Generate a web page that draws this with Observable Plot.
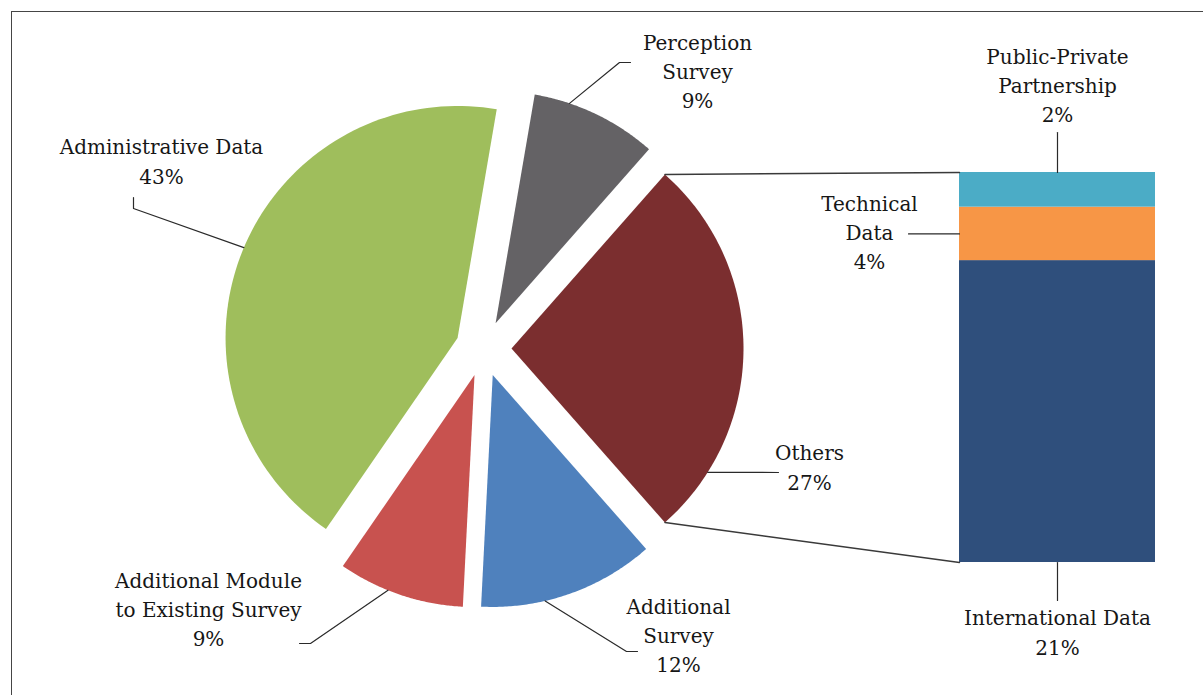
<!DOCTYPE html>
<html><head><meta charset="utf-8">
<script src="https://cdn.jsdelivr.net/npm/d3@7"></script>
<script src="https://cdn.jsdelivr.net/npm/@observablehq/plot@0.6"></script>
<style>
html,body{margin:0;padding:0;background:#fff;overflow:hidden}
#wrap{position:relative;width:1203px;height:695px;overflow:hidden}
#frame{position:absolute;left:11px;top:11px;width:1240px;height:740px;border:1.5px solid #454545;box-sizing:border-box}
#chart{position:absolute;left:0;top:0}
</style></head><body>
<div id="wrap"><div id="frame"></div><div id="chart"></div></div>
<script>
// ---- data ----
const pieLabels = ["Perception\nSurvey", "Others", "Additional\nSurvey", "Additional Module\nto Existing Survey", "Administrative Data"];
const pieValues = [8.8, 27.0, 12.3, 8.8, 43.1];
const pieColors = ["#646265", "#7b2e2f", "#4f81bd", "#c8524f", "#9fbe5c"];
const barLabels = ["International Data", "Technical\nData", "Public-Private\nPartnership"];
const barValues = [20.9, 3.7, 2.4];
const barColors = ["#2f4f7c", "#f79646", "#4bacc6"];
const othersName = "Others";

// ---- layout (pixels) ----
const L = {cx: 483, cy: 348, r: 232, explode: 28,
  barX0: 959, barX1: 1155, barTop: 172, barBottom: 562};
// label placement: text centre, fraction along slice arc where leader starts, leader path
const pieLabelPos = [
  {tx: 697, ty: 69, frac: 0.28, path: [[619, 62], [630, 62]]},
  {tx: 809, ty: 465, frac: 0.832, path: [[778, 472]]},
  {tx: 678, ty: 633, frac: 0.64, path: [[626, 651], [637, 651]]},
  {tx: 208, ty: 607, frac: 0.60, path: [[310, 643], [299, 643]]},
  {tx: 161, ty: 159, frac: 0.505, path: [[133, 208], [133, 197]]}
];
const barLabelPos = [
  {tx: 1057, ty: 630, side: "bottom", len: 38},
  {tx: 869, ty: 230, side: "left", len: 51},
  {tx: 1057, ty: 83, side: "top", len: 40}
];

// ---- geometry from values ----
const total = d3.sum(pieValues);
const deg = v => v / total * 360;
const oi = pieLabels.indexOf(othersName);
const startAngle = 90 - deg(d3.sum(pieValues.slice(0, oi))) - deg(pieValues[oi]) / 2;
let acc = startAngle;
const slices = pieValues.map((v, i) => {
  const a0 = acc, a1 = acc + deg(v); acc = a1;
  const mid = (a0 + a1) / 2 * Math.PI / 180;
  return {i, v, a0, a1, ax: L.cx + L.explode * Math.sin(mid), ay: L.cy - L.explode * Math.cos(mid)};
});
const arcPt = (s, a) => ({x: s.ax + L.r * Math.sin(a * Math.PI / 180), y: s.ay - L.r * Math.cos(a * Math.PI / 180)});
const slicePolys = slices.map(s => {
  const N = 90;
  return [{x: s.ax, y: s.ay}, ...d3.range(N + 1).map(k => arcPt(s, s.a0 + (s.a1 - s.a0) * k / N)), {x: s.ax, y: s.ay}];
});

const barTotal = d3.sum(barValues);
const unit = (L.barBottom - L.barTop) / barTotal;
let cum = 0;
const barRects = barValues.map((v, i) => {
  const y1 = L.barBottom - cum * unit; cum += v;
  const y2 = L.barBottom - cum * unit;
  return {i, x1: L.barX0, x2: L.barX1, y1, y2, fill: barColors[i]};
});

const others = slices[oi];
const topTip = arcPt(others, others.a0), botTip = arcPt(others, others.a1);
const connectors = [
  {k: 0, x: topTip.x, y: topTip.y}, {k: 0, x: L.barX0, y: L.barTop},
  {k: 1, x: botTip.x, y: botTip.y}, {k: 1, x: L.barX0, y: L.barBottom}
];

const leaders = [];
slices.forEach((s, i) => {
  const p = pieLabelPos[i];
  const a = arcPt(s, s.a0 + (s.a1 - s.a0) * p.frac);
  leaders.push({k: "p" + i, x: a.x, y: a.y});
  p.path.forEach(([x, y]) => leaders.push({k: "p" + i, x, y}));
});
barRects.forEach((b, i) => {
  const p = barLabelPos[i];
  const mx = (b.x1 + b.x2) / 2, my = (b.y1 + b.y2) / 2;
  if (p.side === "left") { leaders.push({k: "b" + i, x: b.x1, y: my}, {k: "b" + i, x: b.x1 - p.len, y: my}); }
  if (p.side === "top") { leaders.push({k: "b" + i, x: mx, y: b.y2}, {k: "b" + i, x: mx, y: b.y2 - p.len}); }
  if (p.side === "bottom") { leaders.push({k: "b" + i, x: mx, y: b.y1}, {k: "b" + i, x: mx, y: b.y1 + p.len}); }
});

const fmt = v => Math.round(v / total * 100) + "%";
const fmtBar = v => Math.round(v) + "%";
const texts = [
  ...pieLabels.map((l, i) => ({x: pieLabelPos[i].tx, y: pieLabelPos[i].ty, t: l + "\n" + fmt(pieValues[i])})),
  ...barLabels.map((l, i) => ({x: barLabelPos[i].tx, y: barLabelPos[i].ty, t: l + "\n" + fmtBar(barValues[i])}))
];

const chart = Plot.plot({
  width: 1203, height: 695, margin: 0,
  x: {domain: [0, 1203], range: [0, 1203], axis: null},
  y: {domain: [0, 695], range: [0, 695], axis: null},
  style: {background: "transparent"},
  marks: [
    ...slicePolys.map((poly, i) => Plot.line(poly, {x: "x", y: "y", fill: pieColors[i], stroke: "none", curve: "linear"})),
    Plot.rect(barRects, {x1: "x1", x2: "x2", y1: "y1", y2: "y2", fill: "fill"}),
    Plot.line(connectors, {x: "x", y: "y", z: "k", stroke: "#3a3a3a", strokeWidth: 1.4}),
    Plot.line(leaders, {x: "x", y: "y", z: "k", stroke: "#2a2a2a", strokeWidth: 1.2}),
    Plot.text(texts, {x: "x", y: "y", text: "t", fontSize: 20, fontFamily: "DejaVu Serif", fill: "#161616",
      textAnchor: "middle", lineAnchor: "middle", lineHeight: 1.47})
  ]
});
document.getElementById("chart").appendChild(chart);
</script>
</body></html>
